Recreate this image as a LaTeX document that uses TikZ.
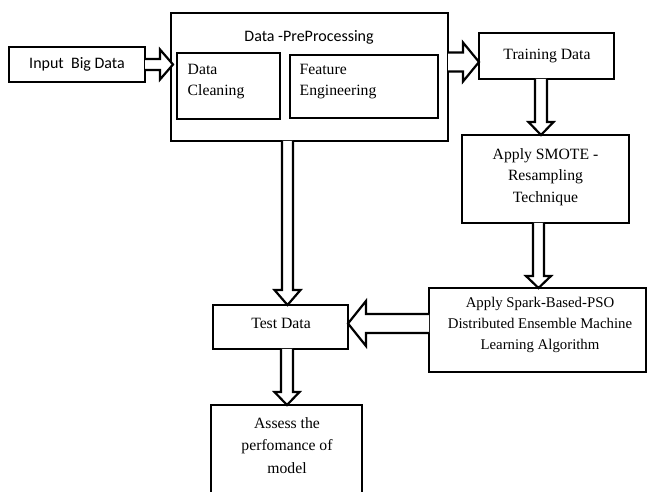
\documentclass[tikz,border=0pt]{standalone}
\usepackage{fontspec}
\setmainfont{Liberation Serif}
\newfontfamily\calib{Carlito}
\usetikzlibrary{calc}
\tikzset{
  box/.style={draw=black, line width=2.5pt, fill=white},
  serif/.style={font=\fontsize{15.7}{21.7}\selectfont, align=center, inner sep=0pt},
  sanslbl/.style={font=\calib\fontsize{16}{19}\selectfont, inner sep=0pt},
  barrow/.style={draw=black, line width=2.2pt, fill=white, line join=miter},
}
% block arrow: start, end, shaft half-width, head half-width, head length
\newcommand{\blockarr}[5]{%
  \path (#2) coordinate (tmpE) ($(#2)!#5!(#1)$) coordinate (tmpB);
  \draw[barrow] ($(#1)!#3!90:(tmpE)$) -- ($(tmpB)!#3!-90:(#1)$) -- ($(tmpB)!#4!-90:(#1)$)
     -- (tmpE) -- ($(tmpB)!#4!90:(#1)$) -- ($(tmpB)!#3!90:(#1)$) -- ($(#1)!#3!-90:(tmpE)$);
}
\begin{document}
\begin{tikzpicture}[x=1pt,y=-1pt]
\clip (0,0) rectangle (649,492);
\fill[white] (0,0) rectangle (649,492);
% boxes
\draw[box] (9,47) rectangle (145,82); \node[sanslbl] (in) at (77,64.5) {Input\ \ Big Data};
\coordinate (inE) at (145,64.5);
\draw[box] (171,13) rectangle (448,141);
\coordinate (preE) at (448,62);
\coordinate (preS) at (287.5,141);
\node[sanslbl] (pretitle) at (309,37) {Data -PreProcessing};
\draw[box] (177,53) rectangle (280,119);
\node[serif, anchor=west, align=left] (clean) at (187.5,81.5) {Data\\Cleaning};
\draw[box] (290,55) rectangle (438,118);
\node[serif, anchor=west, align=left] (feat) at (299.5,81.5) {Feature\\Engineering};
\draw[box] (479,33) rectangle (614,79);
\node[serif] (train) at (547,56) {Training Data};
\coordinate (trainS) at (541,79);
\draw[box] (462,135) rectangle (629,223);
\node[serif] (smote) at (545.5,177) {Apply SMOTE -\\Resampling\\Technique};
\coordinate (smoteN) at (541,135);
\coordinate (smoteS) at (538.5,223);
\draw[box] (429,288) rectangle (646,372);
\node[serif, font=\fontsize{14.8}{21}\selectfont] (spark) at (540,325) {Apply Spark-Based-PSO\\Distributed Ensemble Machine\\Learning Algorithm};
\coordinate (sparkN) at (538.5,288);
\coordinate (sparkW) at (429,323.5);
\draw[box] (213,305) rectangle (348,349);
\node[serif] (test) at (281,323) {Test Data};
\coordinate (testN) at (287.5,305);
\coordinate (testE) at (348,323.5);
\coordinate (testS) at (287,349);
\draw[box] (211,500) -- (211,405) -- (362,405) -- (362,500);
\node[serif, font=\fontsize{15.7}{22.5}\selectfont] (assess) at (287,445.5) {Assess the\\perfomance of\\model};
\coordinate (assessN) at (287,405);
% block arrows
\blockarr{inE}{$(inE)+(28,0)$}{5.5pt}{15pt}{13pt}
\blockarr{preE}{$(preE)+(31,0)$}{9.5pt}{19.5pt}{16pt}
\blockarr{trainS}{smoteN}{6pt}{12.5pt}{13pt}
\blockarr{smoteS}{sparkN}{5.5pt}{12.5pt}{12pt}
\blockarr{sparkW}{testE}{9.5pt}{22.5pt}{18pt}
\blockarr{preS}{testN}{5.5pt}{13pt}{15pt}
\blockarr{testS}{assessN}{6pt}{12.5pt}{13pt}
\end{tikzpicture}
\end{document}
